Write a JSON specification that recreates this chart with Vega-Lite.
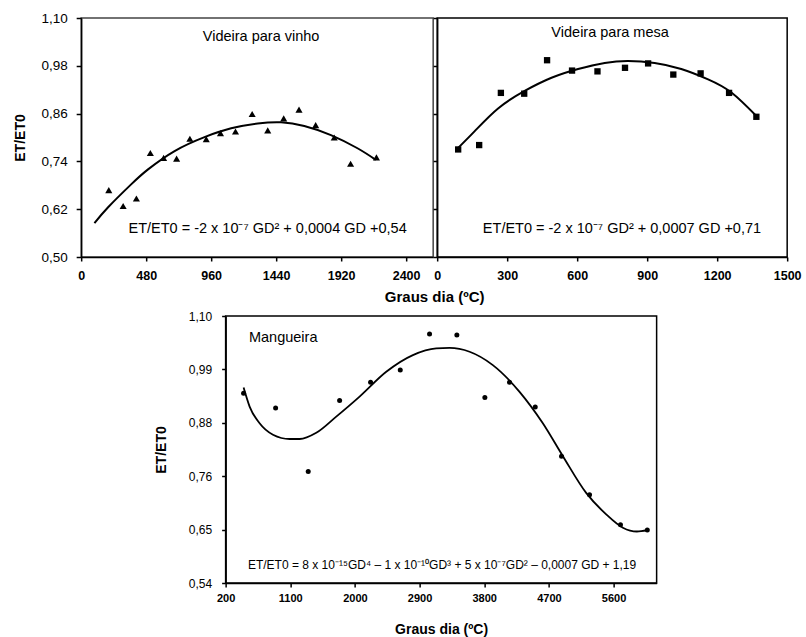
{
  "$schema": "https://vega.github.io/schema/vega-lite/v6.json",
  "background": "white",
  "padding": {"left": 13, "top": 10, "right": 0, "bottom": 0},
  "config": {
    "font": "Liberation Sans",
    "view": {"stroke": null},
    "axis": {"grid": false, "labelFlush": false, "domainColor": "#000", "tickColor": "#000", "labelColor": "#000", "titleColor": "#000", "labelFont": "Liberation Sans", "titleFont": "Liberation Sans", "domainWidth": 1.5, "tickWidth": 1.5, "labelOverlap": false}
  },
  "center": true,
  "spacing": 3,
  "vconcat": [
    {
      "hconcat": [
        {
          "width": 352, "height": 239,
          "view": {"stroke": "#444", "strokeWidth": 1.5},
          "layer": [
            {"data": {"name": "vinho_fit"}, "mark": {"type": "line", "color": "#000", "strokeWidth": 2, "interpolate": "natural"},
             "encoding": {
               "x": {"field": "gd", "type": "quantitative", "scale": {"domain": [0, 2600], "nice": false, "zero": false},
                     "axis": {"values": [0, 480, 960, 1440, 1920, 2400], "format": "d", "labelFontWeight": "bold", "labelFontSize": 12.5, "tickSize": 4, "labelPadding": 8, "title": "Graus dia (ºC)", "titleX": 353, "titleFontSize": 15, "titleFontWeight": "bold", "titlePadding": 8}},
               "y": {"field": "et", "type": "quantitative", "scale": {"domain": [0.5, 1.1], "nice": false, "zero": false},
                     "axis": {"values": [0.5, 0.62, 0.74, 0.86, 0.98, 1.1], "labelExpr": "replace(format(datum.value, '.2f'), '.', ',')", "labelFontSize": 13.5, "tickSize": 5, "labelPadding": 9, "title": "ET/ET0", "titleFontSize": 14, "titleFontWeight": "bold", "titlePadding": 13}}
             }},
            {"data": {"name": "vinho_pts"}, "mark": {"type": "point", "shape": "triangle-up", "filled": true, "color": "#000", "opacity": 1, "size": 50},
             "encoding": {"x": {"field": "gd", "type": "quantitative"}, "y": {"field": "et", "type": "quantitative"}}},
            {"data": {"values": [{}]}, "mark": {"type": "text", "text": "Videira para vinho", "fontSize": 14.5, "align": "center", "baseline": "middle", "color": "#000"},
             "encoding": {"x": {"datum": 1329, "type": "quantitative"}, "y": {"datum": 1.052, "type": "quantitative"}}},
            {"data": {"values": [{}]}, "mark": {"type": "text", "text": "ET/ET0 = -2 x 10⁻⁷ GD² + 0,0004 GD +0,54", "fontSize": 14.5, "align": "center", "baseline": "middle", "color": "#000"},
             "encoding": {"x": {"datum": 1377, "type": "quantitative"}, "y": {"datum": 0.57, "type": "quantitative"}}}
          ]
        },
        {
          "width": 350, "height": 239,
          "view": {"stroke": "#000", "strokeWidth": 1.5},
          "layer": [
            {"data": {"name": "mesa_fit"}, "mark": {"type": "line", "color": "#000", "strokeWidth": 2, "interpolate": "natural"},
             "encoding": {
               "x": {"field": "gd", "type": "quantitative", "scale": {"domain": [0, 1500], "nice": false, "zero": false},
                     "axis": {"values": [0, 300, 600, 900, 1200, 1500], "format": "d", "labelFontWeight": "bold", "labelFontSize": 12.5, "tickSize": 4, "labelPadding": 8, "title": null}},
               "y": {"field": "et", "type": "quantitative", "scale": {"domain": [0.5, 1.1], "nice": false, "zero": false},
                     "axis": {"values": [0.5, 0.62, 0.74, 0.86, 0.98, 1.1], "labels": false, "tickSize": 4, "title": null}}
             }},
            {"data": {"name": "mesa_pts"}, "mark": {"type": "point", "shape": "square", "filled": true, "color": "#000", "opacity": 1, "size": 40},
             "encoding": {"x": {"field": "gd", "type": "quantitative"}, "y": {"field": "et", "type": "quantitative"}}},
            {"data": {"values": [{}]}, "mark": {"type": "text", "text": "Videira para mesa", "fontSize": 14.5, "align": "center", "baseline": "middle", "color": "#000"},
             "encoding": {"x": {"datum": 741, "type": "quantitative"}, "y": {"datum": 1.062, "type": "quantitative"}}},
            {"data": {"values": [{}]}, "mark": {"type": "text", "text": "ET/ET0 = -2 x 10⁻⁷ GD² + 0,0007 GD +0,71", "fontSize": 14.5, "align": "center", "baseline": "middle", "color": "#000"},
             "encoding": {"x": {"datum": 792, "type": "quantitative"}, "y": {"datum": 0.57, "type": "quantitative"}}}
          ]
        }
      ],
      "spacing": 4,
      "bounds": "flush"
    },
    {
      "width": 431, "height": 267,
      "view": {"stroke": "#000", "strokeWidth": 1.5},
      "layer": [
        {"data": {"name": "manga_fit"}, "mark": {"type": "line", "color": "#000", "strokeWidth": 1.8, "interpolate": "monotone"},
         "encoding": {
           "x": {"field": "gd", "type": "quantitative", "scale": {"domain": [200, 6200], "nice": false, "zero": false},
                 "axis": {"values": [200, 1100, 2000, 2900, 3800, 4700, 5600], "format": "d", "labelFontWeight": "bold", "labelFontSize": 11, "tickSize": 4, "labelPadding": 5, "title": "Graus dia (ºC)", "titleFontSize": 14, "titleFontWeight": "bold", "titlePadding": 19}},
           "y": {"field": "et", "type": "quantitative", "scale": {"domain": [0.54, 1.1], "nice": false, "zero": false},
                 "axis": {"values": [0.54, 0.652, 0.764, 0.876, 0.988, 1.1], "labelExpr": "replace(format(datum.value, '.2f'), '.', ',')", "labelFontSize": 12, "tickSize": 4, "labelPadding": 10, "title": "ET/ET0", "titleFontSize": 14, "titleFontWeight": "bold", "titlePadding": 20}}
         }},
        {"data": {"name": "manga_pts"}, "mark": {"type": "point", "shape": "circle", "filled": true, "color": "#000", "opacity": 1, "size": 25},
         "encoding": {"x": {"field": "gd", "type": "quantitative"}, "y": {"field": "et", "type": "quantitative"}}},
        {"data": {"values": [{}]}, "mark": {"type": "text", "text": "Mangueira", "fontSize": 14.5, "align": "left", "baseline": "middle", "color": "#000"},
         "encoding": {"x": {"datum": 525, "type": "quantitative"}, "y": {"datum": 1.053, "type": "quantitative"}}},
        {"data": {"values": [{}]}, "mark": {"type": "text", "text": "ET/ET0 = 8 x 10⁻¹⁵GD⁴ – 1 x 10⁻¹⁰GD³ + 5 x 10⁻⁷GD² – 0,0007 GD + 1,19", "fontSize": 12, "align": "center", "baseline": "middle", "color": "#000"},
         "encoding": {"x": {"datum": 3213, "type": "quantitative"}, "y": {"datum": 0.578, "type": "quantitative"}}}
      ]
    }
  ],
  "datasets": {
    "vinho_pts": [
      {"gd": 204, "et": 0.668}, {"gd": 310, "et": 0.628}, {"gd": 408, "et": 0.647}, {"gd": 511, "et": 0.761},
      {"gd": 609, "et": 0.749}, {"gd": 705, "et": 0.747}, {"gd": 803, "et": 0.797}, {"gd": 924, "et": 0.796},
      {"gd": 1029, "et": 0.811}, {"gd": 1140, "et": 0.815}, {"gd": 1263, "et": 0.859}, {"gd": 1378, "et": 0.818},
      {"gd": 1496, "et": 0.848}, {"gd": 1609, "et": 0.87}, {"gd": 1732, "et": 0.831}, {"gd": 1869, "et": 0.8},
      {"gd": 1990, "et": 0.734}, {"gd": 2181, "et": 0.75}
    ],
    "vinho_fit": [
      {"gd": 98, "et": 0.585}, {"gd": 199, "et": 0.625}, {"gd": 371, "et": 0.683}, {"gd": 494, "et": 0.72},
      {"gd": 690, "et": 0.766}, {"gd": 911, "et": 0.801}, {"gd": 1108, "et": 0.823}, {"gd": 1304, "et": 0.835},
      {"gd": 1476, "et": 0.838}, {"gd": 1648, "et": 0.829}, {"gd": 1845, "et": 0.806}, {"gd": 2041, "et": 0.773},
      {"gd": 2176, "et": 0.744}
    ],
    "mesa_pts": [
      {"gd": 90, "et": 0.77}, {"gd": 180, "et": 0.781}, {"gd": 273, "et": 0.912}, {"gd": 373, "et": 0.91},
      {"gd": 471, "et": 0.994}, {"gd": 578, "et": 0.968}, {"gd": 687, "et": 0.966}, {"gd": 805, "et": 0.975},
      {"gd": 904, "et": 0.986}, {"gd": 1012, "et": 0.958}, {"gd": 1129, "et": 0.961}, {"gd": 1251, "et": 0.912},
      {"gd": 1368, "et": 0.852}
    ],
    "mesa_fit": [
      {"gd": 90, "et": 0.774}, {"gd": 161, "et": 0.816}, {"gd": 261, "et": 0.873}, {"gd": 375, "et": 0.917},
      {"gd": 490, "et": 0.95}, {"gd": 604, "et": 0.972}, {"gd": 718, "et": 0.987}, {"gd": 818, "et": 0.992},
      {"gd": 932, "et": 0.987}, {"gd": 1046, "et": 0.972}, {"gd": 1161, "et": 0.946}, {"gd": 1261, "et": 0.913},
      {"gd": 1368, "et": 0.854}
    ],
    "manga_pts": [
      {"gd": 450, "et": 0.938}, {"gd": 896, "et": 0.907}, {"gd": 1350, "et": 0.774}, {"gd": 1787, "et": 0.923},
      {"gd": 2218, "et": 0.961}, {"gd": 2631, "et": 0.987}, {"gd": 3039, "et": 1.062}, {"gd": 3419, "et": 1.06},
      {"gd": 3809, "et": 0.929}, {"gd": 4152, "et": 0.961}, {"gd": 4510, "et": 0.909}, {"gd": 4876, "et": 0.806},
      {"gd": 5266, "et": 0.725}, {"gd": 5697, "et": 0.662}, {"gd": 6070, "et": 0.651}
    ],
    "manga_fit": [
      {"gd": 450, "et": 0.95}, {"gd": 534, "et": 0.91}, {"gd": 673, "et": 0.875}, {"gd": 859, "et": 0.851},
      {"gd": 1091, "et": 0.842}, {"gd": 1230, "et": 0.842}, {"gd": 1462, "et": 0.855}, {"gd": 1740, "et": 0.889},
      {"gd": 2065, "et": 0.931}, {"gd": 2436, "et": 0.983}, {"gd": 2807, "et": 1.018}, {"gd": 3132, "et": 1.032},
      {"gd": 3317, "et": 1.033}, {"gd": 3596, "et": 1.025}, {"gd": 3920, "et": 0.997}, {"gd": 4292, "et": 0.941},
      {"gd": 4616, "et": 0.875}, {"gd": 4895, "et": 0.806}, {"gd": 5219, "et": 0.729}, {"gd": 5498, "et": 0.684},
      {"gd": 5730, "et": 0.656}, {"gd": 5925, "et": 0.648}, {"gd": 6070, "et": 0.651}
    ]
  }
}
